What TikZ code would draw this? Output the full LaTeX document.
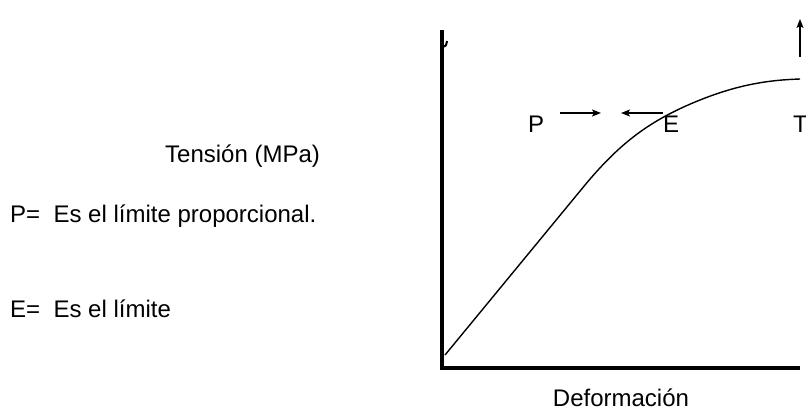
\documentclass[tikz,border=0pt]{standalone}
\usepackage{fontspec}
\setmainfont{Liberation Sans}
\usetikzlibrary{arrows.meta}
\begin{document}
\begin{tikzpicture}[x=1pt,y=-1pt,
  lbl/.style={font=\fontsize{24}{28}\selectfont,inner sep=0pt,anchor=base west},
  axis/.style={line width=4pt},
  curve/.style={line width=1.4pt},
  marker/.style={line width=1.3pt,-{Stealth[length=9pt,width=7pt,inset=2pt]}}]
\useasboundingbox (0,0) rectangle (806,408);
\fill[white] (0,0) rectangle (806,408);
% axes
\coordinate (top) at (442,30);
\coordinate (orig) at (442,368);
\coordinate (xend) at (800,368);
\draw[axis] (top) -- (orig) -- (xend);
\coordinate (hk1) at (443,47);
\coordinate (hk2) at (447,41);
\draw[line width=2pt] (hk1) .. controls (446,46) .. (hk2);
% curve
\coordinate (c0) at (445,355);
\coordinate (c1) at (585,185);
\coordinate (c2) at (700,100);
\coordinate (c3) at (800,79);
\draw[curve] (c0) -- (c1) .. controls (620,143) and (650,120) .. (c2)
  .. controls (740,84) and (770,80) .. (c3);
% labels
\node[lbl] (tension) at (165,162) {Tensión (MPa)};
\node[lbl] (pdef) at (10,222) {P=\ \ Es el límite proporcional.};
\node[lbl] (edef) at (10,317) {E=\ \ Es el límite};
\node[lbl,anchor=base] (deform) at (621,406) {Deformación};
\node[lbl] (P) at (528,132) {P};
\node[lbl] (E) at (663,132) {E};
\node[lbl] (T) at (793,132) {T};
% arrows
\coordinate (pa1) at (560,113);
\coordinate (pa2) at (601,113);
\coordinate (ea1) at (663,113);
\coordinate (ea2) at (621,113);
\coordinate (ta1) at (800,57);
\coordinate (ta2) at (800,19);
\draw[marker] (pa1) -- (pa2);
\draw[marker] (ea1) -- (ea2);
\draw[marker] (ta1) -- (ta2);
\end{tikzpicture}
\end{document}
